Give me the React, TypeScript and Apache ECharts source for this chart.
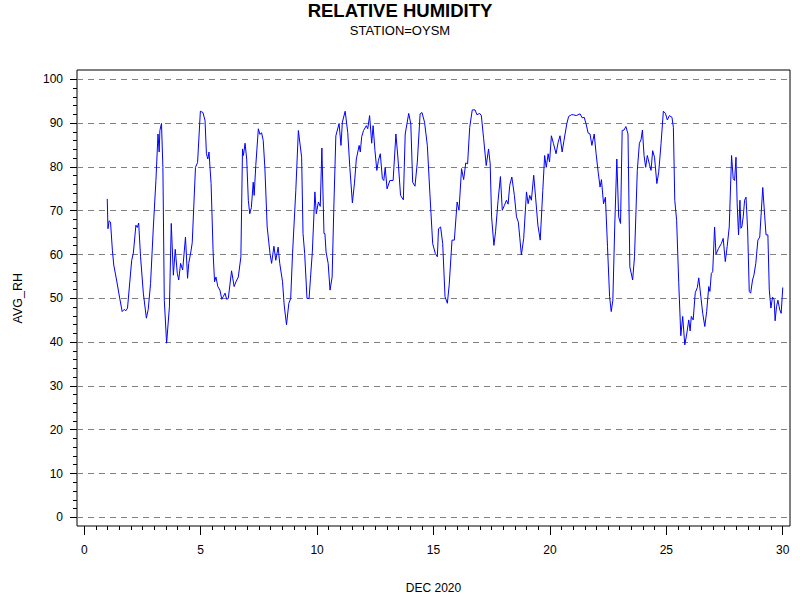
import React, { useEffect, useRef } from 'react';
import * as echarts from 'echarts';

// day of month (fractional) and average relative humidity
const days = [
  1.00, 1.03, 1.08, 1.14, 1.22, 1.28, 1.40, 1.51, 1.64, 1.73, 1.80, 1.87,
  2.05, 2.12, 2.23, 2.29, 2.35, 2.43, 2.55, 2.68, 2.76, 2.86, 2.98,
  3.09, 3.18, 3.23, 3.26, 3.33, 3.39, 3.45, 3.55, 3.67, 3.75, 3.84, 3.92,
  4.01, 4.07, 4.15, 4.24, 4.36, 4.45, 4.50, 4.59, 4.65, 4.79, 4.88,
  5.00, 5.11, 5.20, 5.26, 5.32, 5.37, 5.46, 5.55, 5.61, 5.67, 5.75, 5.84, 5.92, 5.98,
  6.06, 6.13, 6.20, 6.34, 6.45, 6.53, 6.63, 6.74, 6.81, 6.85, 6.92, 6.99,
  7.06, 7.12, 7.19, 7.27, 7.31, 7.38, 7.49, 7.56, 7.63, 7.70, 7.77, 7.87, 7.99,
  8.06, 8.16, 8.24, 8.34, 8.41, 8.53, 8.60, 8.70, 8.80, 8.88, 8.96,
  9.10, 9.21, 9.35, 9.41, 9.48, 9.58, 9.67, 9.73, 9.81, 9.92, 9.98,
  10.07, 10.15, 10.22, 10.31, 10.35, 10.40, 10.49, 10.57, 10.66, 10.73, 10.82, 10.96,
  11.04, 11.10, 11.22, 11.33, 11.42, 11.53, 11.62, 11.70, 11.82, 11.87, 11.93,
  12.01, 12.13, 12.19, 12.27, 12.36, 12.42, 12.50, 12.58, 12.65, 12.73, 12.82, 12.88, 12.94,
  13.02, 13.14, 13.28, 13.40, 13.49, 13.60, 13.72, 13.80, 13.95,
  14.04, 14.12, 14.22, 14.32, 14.44, 14.52, 14.63, 14.75, 14.86, 14.98,
  15.09, 15.18, 15.23, 15.32, 15.41, 15.51, 15.61, 15.69, 15.81, 15.91,
  16.03, 16.11, 16.22, 16.31, 16.40, 16.48, 16.57, 16.68, 16.80, 16.88,
  17.00, 17.07, 17.17, 17.28, 17.38, 17.45, 17.51, 17.61, 17.68, 17.79, 17.89, 17.97,
  18.06, 18.15, 18.22, 18.29, 18.38, 18.49, 18.58, 18.66, 18.72, 18.79, 18.89,
  19.01, 19.08, 19.15, 19.22, 19.32, 19.40, 19.50, 19.60, 19.71, 19.79, 19.86, 19.94,
  20.00, 20.08, 20.17, 20.28, 20.37, 20.45, 20.54, 20.62, 20.74, 20.82, 20.94,
  21.02, 21.15, 21.31, 21.40, 21.49, 21.57, 21.66, 21.74, 21.82, 21.92,
  22.00, 22.09, 22.17, 22.23, 22.32, 22.40, 22.49, 22.58, 22.65, 22.72, 22.80, 22.89, 22.97,
  23.05, 23.12, 23.20, 23.28, 23.37, 23.45, 23.57, 23.65, 23.77, 23.86, 23.93, 23.99,
  24.06, 24.13, 24.20, 24.29, 24.36, 24.43, 24.51, 24.61, 24.69, 24.79, 24.89, 24.98,
  25.06, 25.15, 25.26, 25.32, 25.38, 25.46, 25.55, 25.64, 25.72, 25.81, 25.90, 25.98,
  26.04, 26.09, 26.17, 26.26, 26.35, 26.41, 26.50, 26.58, 26.67, 26.75, 26.84, 26.89, 26.95,
  27.01, 27.09, 27.15, 27.26, 27.38, 27.46, 27.55, 27.63, 27.72, 27.82, 27.89, 27.95,
  28.01, 28.06, 28.12, 28.18, 28.22, 28.26, 28.32, 28.38, 28.44, 28.51, 28.58, 28.64,
  28.72, 28.78, 28.86, 28.95, 29.03, 29.10, 29.16, 29.24, 29.30, 29.38, 29.44, 29.51,
  29.58, 29.65, 29.69, 29.75, 29.81, 29.89, 29.95, 30.02,
];

const avgRh = [
  72.6, 65.8, 67.6, 67.3, 60.9, 57.5, 54.1, 50.7, 46.9, 47.4, 47.1, 47.7,
  58.6, 60.2, 66.6, 66.1, 67.1, 59.4, 51.1, 45.4, 47.4, 53.3, 66.2,
  76.8, 87.4, 83.3, 88.2, 89.8, 79.8, 49.5, 39.7, 48.0, 67.0, 55.2, 61.1,
  55.6, 54.1, 57.9, 56.4, 63.9, 54.5, 57.9, 60.5, 62.6, 79.8, 80.9,
  92.6, 92.3, 90.5, 82.9, 81.7, 83.3, 76.1, 60.0, 53.7, 54.8, 52.6, 51.8, 49.7, 50.3,
  51.1, 49.7, 49.9, 56.2, 52.6, 53.7, 54.8, 59.4, 84.0, 82.5, 85.3, 81.7,
  72.3, 69.2, 70.6, 76.4, 73.4, 80.2, 88.6, 87.3, 87.7, 85.9, 79.8, 66.2, 60.2,
  57.9, 61.8, 58.6, 61.6, 57.9, 53.7, 48.4, 43.9, 48.8, 49.9, 60.2,
  74.5, 88.2, 82.1, 64.7, 60.2, 49.9, 49.9, 54.5, 60.5, 74.2, 69.2,
  71.9, 70.9, 84.2, 64.7, 64.7, 60.5, 57.9, 51.8, 54.8, 70.0, 87.0, 89.8,
  84.8, 90.1, 92.6, 87.8, 79.8, 71.7, 76.2, 81.7, 84.8, 83.3, 86.8,
  88.2, 89.3, 88.6, 91.6, 85.3, 89.3, 83.6, 79.1, 81.4, 82.9, 77.2, 76.8, 79.8,
  74.9, 76.8, 76.8, 87.4, 81.7, 73.4, 72.4, 87.4, 92.1,
  89.7, 76.4, 75.5, 81.0, 92.0, 92.3, 90.1, 84.8, 73.8, 62.4,
  60.2, 59.4, 65.8, 66.2, 62.4, 50.3, 48.8, 53.0, 63.2, 63.2,
  71.9, 70.0, 79.5, 77.0, 80.8, 80.6, 88.9, 92.9, 92.9, 91.8,
  92.1, 91.6, 86.3, 80.2, 84.0, 80.6, 68.5, 62.0, 65.1, 72.3, 77.7, 70.0,
  71.1, 72.3, 71.4, 75.7, 77.6, 73.4, 68.5, 67.3, 63.9, 59.8, 63.6,
  74.2, 71.5, 73.4, 72.3, 78.0, 73.0, 66.6, 63.2, 74.5, 82.5, 79.8, 82.9,
  81.0, 87.0, 85.2, 82.9, 85.5, 87.0, 83.3, 85.9, 89.7, 91.4, 91.8,
  91.8, 91.6, 92.0, 91.1, 91.2, 89.7, 87.6, 87.4, 84.8, 87.4,
  82.9, 78.7, 75.3, 77.0, 71.5, 73.0, 61.7, 50.3, 46.9, 49.5, 66.2, 81.7, 68.5,
  67.0, 88.2, 88.3, 89.1, 87.4, 57.1, 54.1, 59.4, 79.1, 85.3, 86.1, 88.3,
  82.5, 79.8, 82.5, 80.5, 79.1, 83.6, 82.1, 76.1, 78.7, 85.2, 92.6, 92.1,
  90.6, 91.6, 91.2, 88.9, 72.3, 67.7, 53.5, 41.4, 45.8, 39.3, 42.0, 45.0,
  42.5, 45.8, 45.0, 51.2, 52.4, 54.6, 50.3, 46.5, 43.5, 46.9, 52.6, 51.5, 55.6,
  56.0, 66.2, 60.0, 61.3, 62.4, 63.6, 58.3, 61.7, 66.2, 82.5, 77.2, 76.8,
  82.1, 71.5, 64.4, 72.3, 65.9, 66.2, 68.5, 72.3, 73.0, 65.5, 51.5, 51.1,
  54.1, 55.2, 57.9, 63.2, 63.9, 70.0, 75.2, 68.9, 64.4, 64.4, 51.8, 47.7,
  50.2, 49.6, 44.8, 48.0, 49.5, 47.3, 46.5, 52.4,
];

const FONT = 'Liberation Sans';

const App: React.FC = () => {
  const chartRef = useRef<HTMLDivElement>(null);

  useEffect(() => {
    const chart = echarts.init(chartRef.current, null, { renderer: 'svg' });

    const option = {
      animation: false,
      backgroundColor: '#fff',
      title: [
        {
          text: 'RELATIVE HUMIDITY',
          left: 'center',
          top: 1,
          padding: 0,
          textStyle: { fontFamily: FONT, fontSize: 18.5, fontWeight: 'bold', color: '#000' },
        },
        {
          text: 'STATION=OYSM',
          left: 'center',
          top: 24,
          padding: 0,
          textStyle: { fontFamily: FONT, fontSize: 13, fontWeight: 'normal', color: '#000' },
        },
      ],
      grid: [
        // frame that holds the line
        { left: 77, right: 10, top: 70, bottom: 74, show: true, borderColor: '#000', borderWidth: 1, outerBoundsMode: 'none' },
        // y axis 0..100
        { left: 77, right: 10, top: 79.3, bottom: 82.7, outerBoundsMode: 'none' },
        // x axis 0..30
        { left: 84.3, right: 17.3, top: 70, bottom: 74, outerBoundsMode: 'none' },
      ],
      xAxis: [
        { gridIndex: 0, type: 'value', min: -0.3, max: 30.33, show: false },
        { gridIndex: 1, type: 'value', min: 0, max: 1, show: false },
        {
          gridIndex: 2,
          type: 'value',
          position: 'bottom',
          min: 0,
          max: 30,
          interval: 5,
          name: 'DEC 2020',
          nameLocation: 'middle',
          nameGap: 56,
          nameTextStyle: { fontFamily: FONT, fontSize: 12, color: '#000' },
          axisLine: { show: false },
          axisTick: { show: true, length: 9, lineStyle: { color: '#000', width: 1 } },
          minorTick: { show: true, splitNumber: 10, length: 4, lineStyle: { color: '#000', width: 1 } },
          axisLabel: { fontFamily: FONT, fontSize: 12, color: '#000', margin: 18 },
          splitLine: { show: false },
          minorSplitLine: { show: false },
        },
      ],
      yAxis: [
        { gridIndex: 0, type: 'value', min: -2, max: 102, show: false },
        {
          gridIndex: 1,
          type: 'value',
          min: 0,
          max: 100,
          interval: 10,
          name: 'AVG_RH',
          nameLocation: 'middle',
          nameGap: 53,
          nameTextStyle: { fontFamily: FONT, fontSize: 12.5, color: '#000' },
          axisLine: { show: false },
          axisTick: { show: true, length: 7, lineStyle: { color: '#000', width: 1 } },
          minorTick: { show: true, splitNumber: 5, length: 4, lineStyle: { color: '#000', width: 1 } },
          axisLabel: { fontFamily: FONT, fontSize: 12, color: '#000', margin: 14 },
          splitLine: { show: true, lineStyle: { color: '#808080', width: 1, type: [6, 5] } },
          minorSplitLine: { show: false },
        },
        { gridIndex: 2, type: 'value', min: 0, max: 1, show: false },
      ],
      series: [
        {
          name: 'AVG_RH',
          type: 'line',
          xAxisIndex: 0,
          yAxisIndex: 0,
          data: days.map((d, i) => [d, avgRh[i]]),
          showSymbol: false,
          symbol: 'none',
          lineStyle: { color: '#0000ff', width: 1 },
          itemStyle: { color: '#0000ff' },
        },
      ],
    };

    chart.setOption(option);

    return () => {
      chart.dispose();
    };
  }, []);

  return (
    <div
      ref={chartRef}
      style={{ position: 'absolute', left: 0, top: 0, width: '800px', height: '600px' }}
    />
  );
};

export default App;
